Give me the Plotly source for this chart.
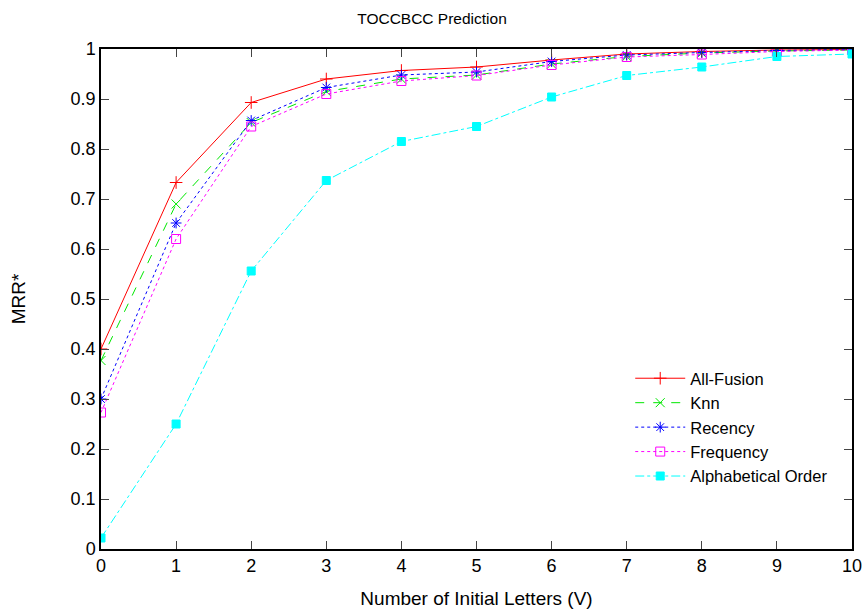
import plotly.graph_objects as go

x_vals = [0, 1, 2, 3, 4, 5, 6, 7, 8, 9, 10]
all_fusion = [0.400, 0.733, 0.893, 0.940, 0.957, 0.964, 0.978, 0.990, 0.995, 0.998, 0.999]
knn = [0.377, 0.690, 0.853, 0.915, 0.940, 0.948, 0.970, 0.985, 0.992, 0.996, 0.998]
recency = [0.300, 0.652, 0.857, 0.923, 0.948, 0.954, 0.975, 0.988, 0.993, 0.997, 0.999]
frequency = [0.273, 0.620, 0.845, 0.910, 0.936, 0.947, 0.968, 0.984, 0.989, 0.995, 0.998]
alphabetical = [0.022, 0.250, 0.556, 0.737, 0.815, 0.845, 0.904, 0.947, 0.964, 0.985, 0.990]
y_ticks = [0, 0.1, 0.2, 0.3, 0.4, 0.5, 0.6, 0.7, 0.8, 0.9, 1]
y_tick_labels = ["0", "0.1", "0.2", "0.3", "0.4", "0.5", "0.6", "0.7", "0.8", "0.9", "1"]

series = [
    ("All-Fusion", all_fusion, "#ff0000", "solid", "cross-thin-open", 9),
    ("Knn", knn, "#00e800", "dash", "x-thin-open", 9),
    ("Recency", recency, "#0000ff", "dot", "asterisk-open", 9),
    ("Frequency", frequency, "#ff00ff", "dot", "square-open", 9),
    ("Alphabetical Order", alphabetical, "#00ffff", "dashdot", "square", 8),
]

fig = go.Figure()
for name, ys, color, dash, sym, size in series:
    fig.add_trace(go.Scatter(
        x=x_vals, y=ys, name=name, mode="lines+markers",
        line=dict(color=color, width=1, dash=dash),
        marker=dict(symbol=sym, size=size, color=color,
                    line=dict(color=color, width=1)),
    ))

font = "Liberation Sans, Arial, sans-serif"
fig.update_layout(
    width=864, height=610,
    margin=dict(l=101, r=12, t=49, b=61, autoexpand=False),
    paper_bgcolor="white", plot_bgcolor="white",
    font=dict(family=font, size=16, color="black"),
    title=dict(text="TOCCBCC Prediction", x=0.5, xanchor="center",
               y=0.97, yanchor="middle", font=dict(family=font, size=15.5)),
    showlegend=True,
    legend=dict(x=0.975, y=0.11, xanchor="right", yanchor="bottom",
                bgcolor="rgba(0,0,0,0)", font=dict(family=font, size=16.5),
                tracegroupgap=0, itemwidth=50),
)
fig.update_xaxes(
    range=[0, 10], tickvals=x_vals, ticks="inside", ticklen=8,
    tickfont=dict(family=font, size=18),
    showline=True, linecolor="black", linewidth=1.5, mirror="ticks",
    showgrid=False, zeroline=False, automargin=False,
    title=dict(text="Number of Initial Letters (V)", standoff=16,
               font=dict(family=font, size=19)),
)
fig.update_yaxes(
    range=[0, 1], tickvals=y_ticks, ticktext=y_tick_labels,
    ticks="inside", ticklen=8,
    tickfont=dict(family=font, size=18),
    showline=True, linecolor="black", linewidth=1.5, mirror="ticks",
    showgrid=False, zeroline=False, automargin=False,
    title=dict(text="MRR*", standoff=40, font=dict(family=font, size=19)),
)
fig.write_html(
    "out.html",
    config={"displayModeBar": False},
    post_script="document.body.style.margin='0';document.body.style.overflow='hidden';",
)
